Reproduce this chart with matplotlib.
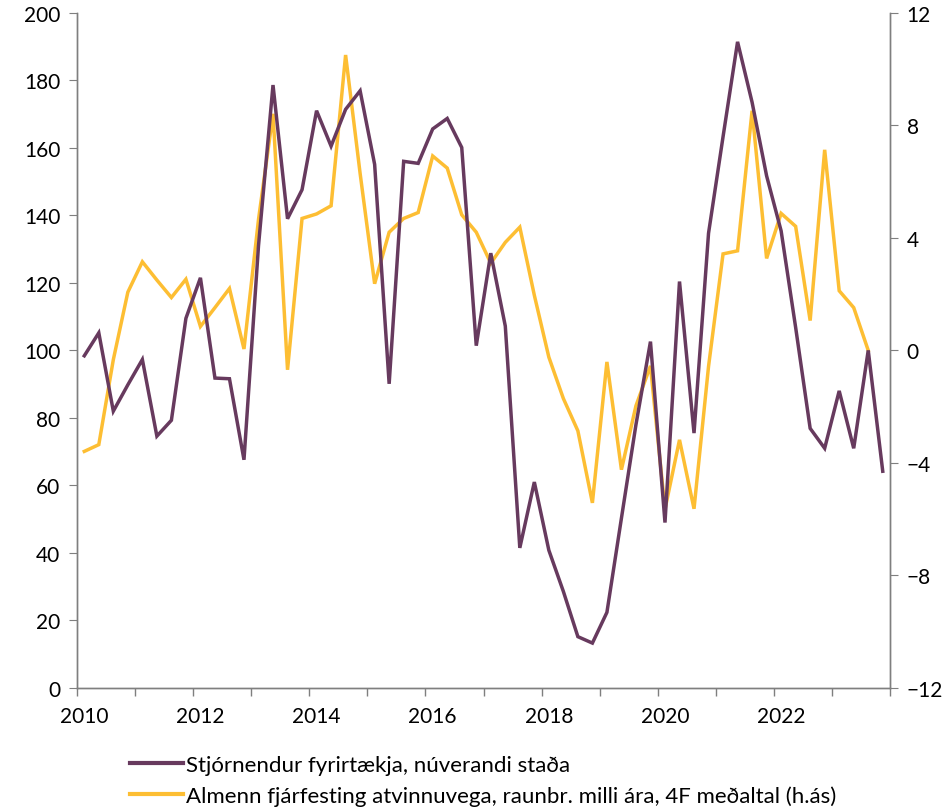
import numpy as np
import matplotlib
matplotlib.use("Agg")
import matplotlib.pyplot as plt
from matplotlib.lines import Line2D

plt.rcParams["font.family"] = ["Lato", "DejaVu Sans"]

# ==========================================
# DATA (quarterly, 2010Q1 - 2023Q4)
# ==========================================

years = list(range(2010, 2024))
year_labels = ["2010", "2012", "2014", "2016", "2018", "2020", "2022"]

stjornendur = [
    98.4, 105.2, 82.0, 89.8, 97.3, 74.6, 79.3, 109.5,
    121.5, 91.8, 91.6, 67.6, 131.0, 178.6, 139.0, 147.6,
    171.0, 160.5, 171.4, 176.9, 155.1, 90.1, 156.0, 155.4,
    165.6, 168.7, 160.1, 101.4, 128.8, 107.2, 41.5, 61.0,
    40.8, 28.6, 15.2, 13.3, 22.4, 50.3, 78.0, 102.6,
    49.0, 120.4, 75.5, 134.7, 163.3, 191.4, 173.5, 151.7,
    135.4, 106.8, 76.9, 71.0, 88.0, 71.0, 100.0, 64.2,
]

fjarfesting = [
    -3.59, -3.35, -0.33, 2.07, 3.15, 2.50, 1.88, 2.53,
    0.85, 1.52, 2.20, 0.05, 4.65, 8.41, -0.69, 4.69,
    4.85, 5.14, 10.50, 6.29, 2.37, 4.20, 4.69, 4.90,
    6.91, 6.48, 4.82, 4.20, 3.10, 3.84, 4.38, 1.96,
    -0.24, -1.71, -2.86, -5.42, -0.41, -4.24, -1.97, -0.55,
    -5.65, -3.18, -5.63, -0.57, 3.43, 3.54, 8.52, 3.27,
    4.87, 4.41, 1.06, 7.13, 2.12, 1.52, 0.0, np.nan,
]

label_left = "Stjórnendur fyrirtækja, núverandi staða"
label_right = "Almenn fjárfesting atvinnuvega, raunbr. milli ára, 4F meðaltal (h.ás)"

PURPLE = "#673A5E"
YELLOW = "#FDBE33"
AXIS_COLOR = "#7F7F7F"

# ==========================================
# PLOT
# ==========================================

fig = plt.figure(figsize=(9.44, 8.12), dpi=100)
ax = fig.add_axes([0.0816, 0.1515, 0.8612, 0.8315])
ax2 = ax.twinx()

x = np.arange(len(stjornendur))

ax.plot(x, stjornendur, color=PURPLE, lw=2.5, solid_joinstyle="miter", zorder=3)
ax2.plot(x, fjarfesting, color=YELLOW, lw=2.5, solid_joinstyle="miter", zorder=2)
ax.set_zorder(ax2.get_zorder() + 1)
ax.patch.set_visible(False)

ax.set_xlim(-0.5, len(stjornendur) - 0.5)
ax.set_ylim(0, 200)
ax2.set_ylim(-12, 12)

ax.set_yticks(np.arange(0, 201, 20))
ax2.set_yticks(np.arange(-12, 13, 4))

# year boundaries as minor ticks, labels on Q1 of even years
ax.set_xticks(np.arange(len(years) + 1) * 4 - 0.5, minor=True)
ax.set_xticks([years.index(int(y)) * 4 for y in year_labels])
ax.set_xticklabels(year_labels)
ax.tick_params(axis="x", which="major", length=0, pad=13, labelsize=15)
ax.tick_params(axis="x", which="minor", length=6, direction="out",
               color=AXIS_COLOR, width=1)
ax.tick_params(axis="y", length=6, direction="out", color=AXIS_COLOR,
               labelsize=15, pad=6)
ax2.tick_params(axis="y", length=6, direction="out", color=AXIS_COLOR,
                labelsize=15, pad=6)

for a in (ax, ax2):
    a.spines["top"].set_visible(False)
    for s in ("left", "right", "bottom"):
        a.spines[s].set_color(AXIS_COLOR)
        a.spines[s].set_linewidth(1)

# ==========================================
# LEGEND
# ==========================================

handles = [
    Line2D([], [], color=PURPLE, lw=3),
    Line2D([], [], color=YELLOW, lw=3),
]
fig.legend(
    handles, [label_left, label_right],
    loc="upper left", bbox_to_anchor=(0.128, 0.080),
    frameon=False, fontsize=16, handlelength=2.4,
    handletextpad=0.15, labelspacing=0.45, borderaxespad=0,
)

fig.savefig("out.png", dpi=100)
plt.close(fig)
